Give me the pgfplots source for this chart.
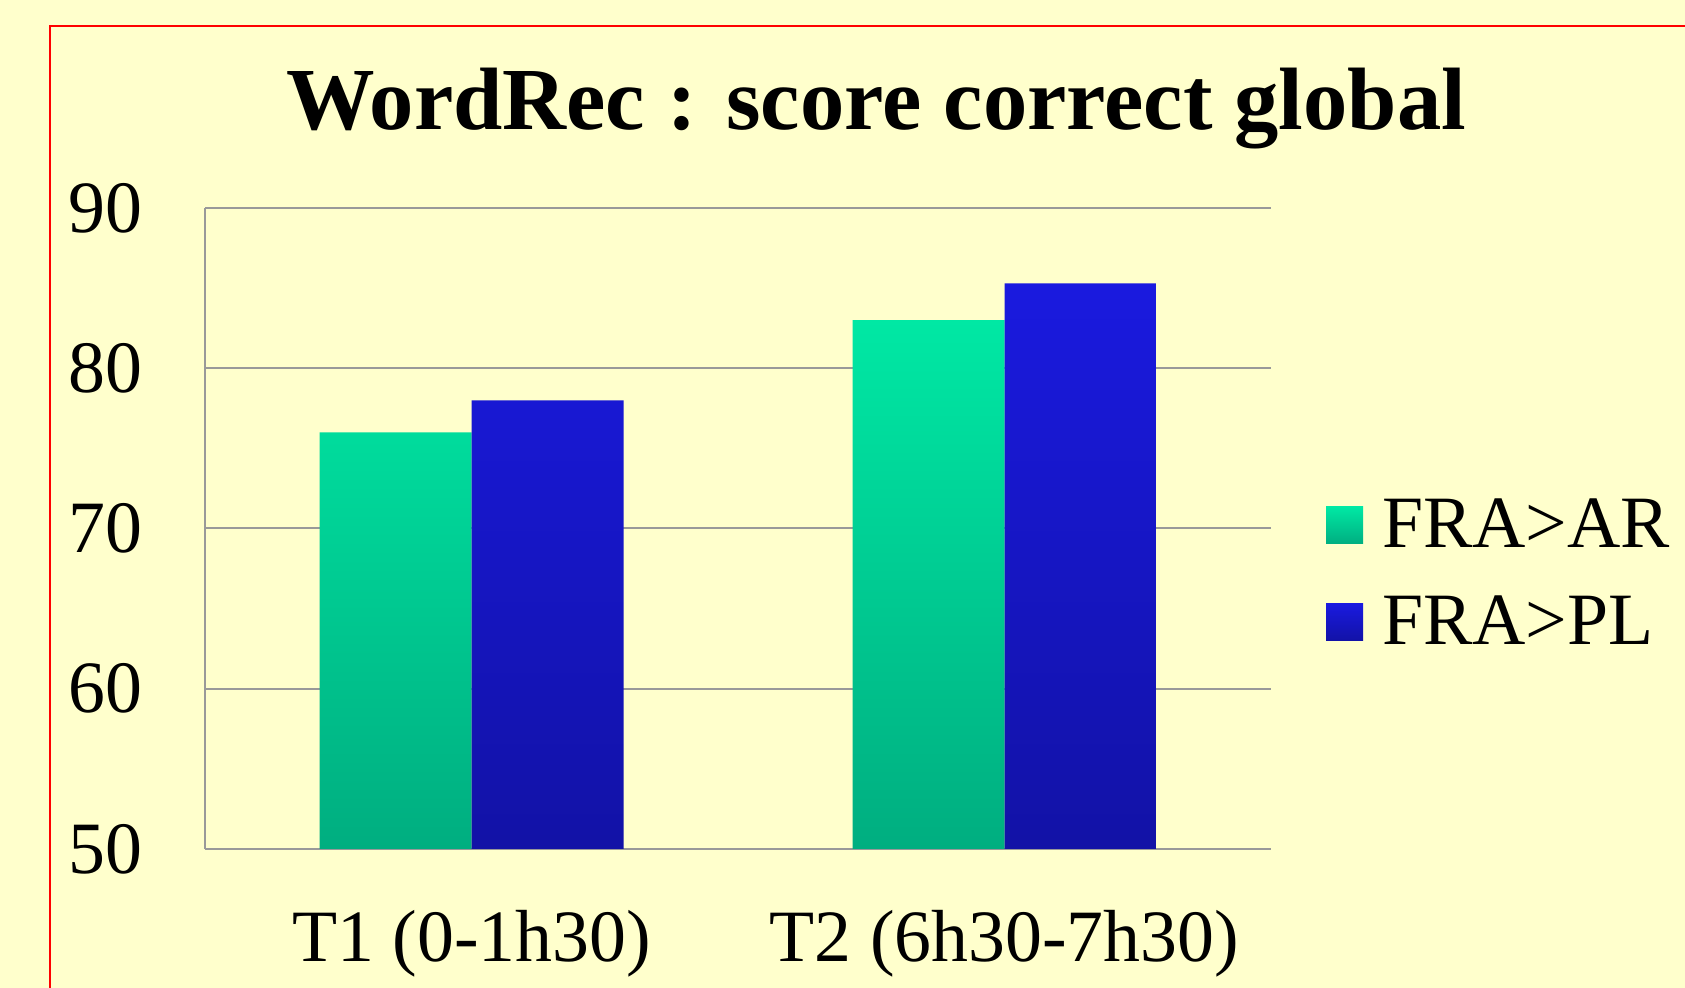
\documentclass[border=0pt]{standalone}
\usepackage{fontspec}
\setmainfont{Liberation Serif}
\usepackage{pgfplots}
\pgfplotsset{compat=1.18}
\definecolor{bg}{HTML}{FFFFCC}
\definecolor{gtop}{HTML}{00E8A4}
\definecolor{gbot}{HTML}{00AE80}
\definecolor{btop}{HTML}{1A1ADF}
\definecolor{bbot}{HTML}{1212A6}
\definecolor{gridc}{HTML}{999999}
\pgfplotsset{mylegend/.style={legend image code/.code={%
  \path[##1, draw=none] (0mm,0.4mm) rectangle (3.7mm,4.1mm);
  \path (0mm,0.4mm) -- (5.6mm,0.4mm);}}}
\begin{document}
\begin{tikzpicture}
\useasboundingbox (0mm,0mm) rectangle (168.5mm,98.8mm);
\fill[bg] (0mm,0mm) rectangle (168.5mm,98.8mm);
\draw[red, line width=0.15mm] (5.0mm,-5mm) -- (5.0mm,96.2mm) -- (175mm,96.2mm);
\node[anchor=base, inner sep=0pt, font=\fontsize{25.2pt}{30pt}\selectfont\bfseries] at (87.6mm,85.8mm) {WordRec : score correct global};
\begin{axis}[
  at={(20.5mm,13.9mm)}, anchor=south west,
  width=106.6mm, height=64.1mm, scale only axis,
  ybar=0pt, bar width=15.2mm,
  xmin=-0.5, xmax=1.5, ymin=50, ymax=90, enlargelimits=false,
  xtick={0,1}, xticklabels={T1 (0-1h30), T2 (6h30-7h30)},
  ytick={50,60,70,80,90},
  major tick length=0pt,
  axis x line*=bottom, axis y line*=left,
  axis line style={gridc, line width=0.2mm},
  ymajorgrids, grid style={gridc, line width=0.2mm},
  /pgf/number format/assume math mode=true,
  yticklabel style={anchor=east, inner sep=0pt, xshift=-6.2mm, font=\fontsize{21pt}{25pt}\selectfont},
  xticklabel style={anchor=base, inner sep=0pt, yshift=-11.3mm, font=\fontsize{21pt}{25pt}\selectfont},
  legend style={at={(axis description cs:1.0516,0.5476)}, anchor=north west,
    draw=none, fill=none, inner sep=0pt, outer sep=0pt, row sep=4.7mm,
    nodes={inner sep=0pt, text height=5mm, text depth=0mm, anchor=base west},
    font=\fontsize{21pt}{25pt}\selectfont},
]
\addplot[shading=axis, top color=gtop, bottom color=gbot, draw=none, mylegend] coordinates {(0,76) (1,83)};
\addplot[shading=axis, top color=btop, bottom color=bbot, draw=none, mylegend] coordinates {(0,78) (1,85.3)};
\legend{FRA>AR, FRA>PL}
\end{axis}
\end{tikzpicture}
\end{document}
